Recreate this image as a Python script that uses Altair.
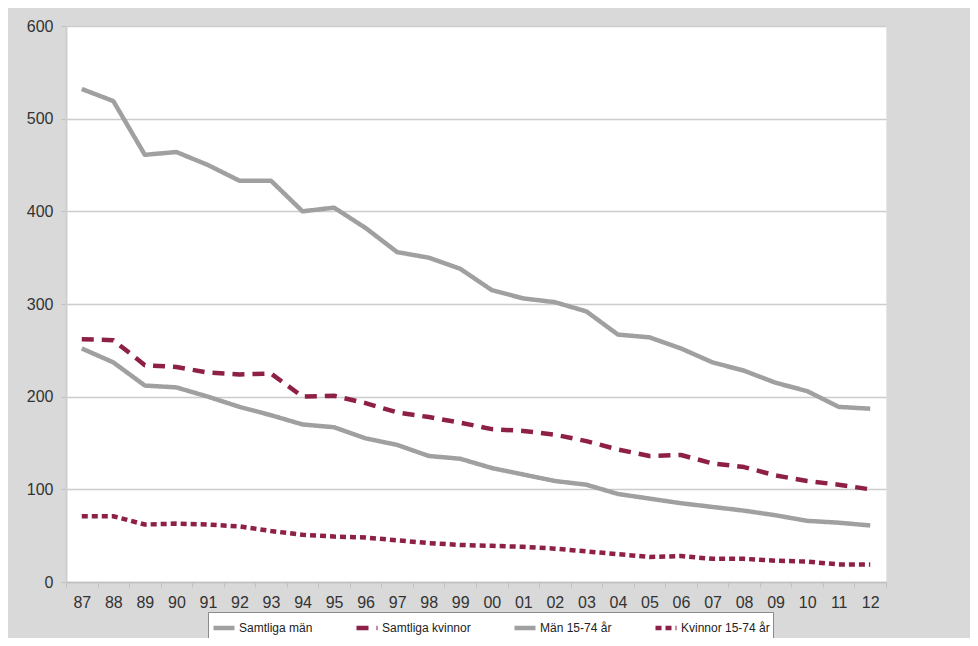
import altair as alt
import pandas as pd

years = ["87", "88", "89", "90", "91", "92", "93", "94", "95", "96", "97", "98", "99",
         "00", "01", "02", "03", "04", "05", "06", "07", "08", "09", "10", "11", "12"]

samtliga_man = [532, 519, 461, 464, 450, 433, 433, 400, 404, 382, 356, 350, 338,
                315, 306, 302, 292, 267, 264, 252, 237, 228, 215, 206, 189, 187]
samtliga_kvinnor = [262, 261, 234, 232, 226, 224, 225, 200, 201, 193, 183, 178, 172,
                    165, 163, 159, 152, 143, 136, 137, 128, 124, 115, 109, 105, 100]
man_15_74 = [252, 237, 212, 210, 200, 189, 180, 170, 167, 155, 148, 136, 133,
             123, 116, 109, 105, 95, 90, 85, 81, 77, 72, 66, 64, 61]
kvinnor_15_74 = [71, 71, 62, 63, 62, 60, 55, 51, 49, 48, 45, 42, 40,
                 39, 38, 36, 33, 30, 27, 28, 25, 25, 23, 22, 19, 19]

series_names = ["Samtliga män", "Samtliga kvinnor", "Män 15-74 år", "Kvinnor 15-74 år"]
series_values = [samtliga_man, samtliga_kvinnor, man_15_74, kvinnor_15_74]

rows = []
for name, vals in zip(series_names, series_values):
    for yr, v in zip(years, vals):
        rows.append({"year": yr, "value": v, "series": name})
df = pd.DataFrame(rows)

GRAY = "#a0a0a0"
RED = "#8e1f47"

chart = alt.Chart(df).mark_line(strokeCap="butt", strokeJoin="round").encode(
    x=alt.X("year:N", sort=years, title=None,
            scale=alt.Scale(type="band", paddingInner=0, paddingOuter=0),
            axis=alt.Axis(labelAngle=0, tickBand="extent", labelFontSize=16,
                          labelColor="#333333", labelPadding=7, tickSize=5,
                          tickColor="#c0c0c0", domainColor="#c0c0c0", domainWidth=1.5,
                          grid=False, labelFont="Liberation Sans")),
    y=alt.Y("value:Q", title=None,
            scale=alt.Scale(domain=[0, 600], nice=False),
            axis=alt.Axis(values=[0, 100, 200, 300, 400, 500, 600], labelFontSize=16,
                          labelColor="#333333", labelPadding=8, tickSize=5,
                          tickColor="#c0c0c0", domainColor="#cfcfcf", domainWidth=2,
                          gridColor="#cccccc", gridWidth=1.5, labelFont="Liberation Sans")),
    color=alt.Color("series:N", sort=series_names, title=None,
                    scale=alt.Scale(domain=series_names, range=[GRAY, RED, GRAY, RED]),
                    legend=alt.Legend(orient="none", legendX=142, legendY=586,
                                      direction="horizontal", columns=4,
                                      symbolType="stroke", symbolSize=441,
                                      labelFontSize=12, labelFont="Liberation Sans",
                                      labelColor="#222222", labelOffset=2,
                                      columnPadding=34, padding=3,
                                      fillColor="white", strokeColor="#8a8a8a")),
    strokeDash=alt.StrokeDash("series:N", sort=series_names, title=None,
                              scale=alt.Scale(domain=series_names,
                                              range=[[1, 0], [12, 8], [1, 0], [6, 4]])),
    strokeWidth=alt.StrokeWidth("series:N", sort=series_names, title=None,
                                scale=alt.Scale(domain=series_names,
                                                range=[4.5, 4.5, 2, 3])),
    detail="series:N",
).properties(
    width=820, height=556,
    autosize=alt.AutoSizeParams(type="none"),
    padding={"left": 58, "top": 18, "right": 84, "bottom": 56},
    background="#d9d9d9",
).configure_view(
    fill="white", stroke="#e6e6e6", strokeWidth=1
)

chart.save("out.html", embed_options={"renderer": "svg", "actions": False})
